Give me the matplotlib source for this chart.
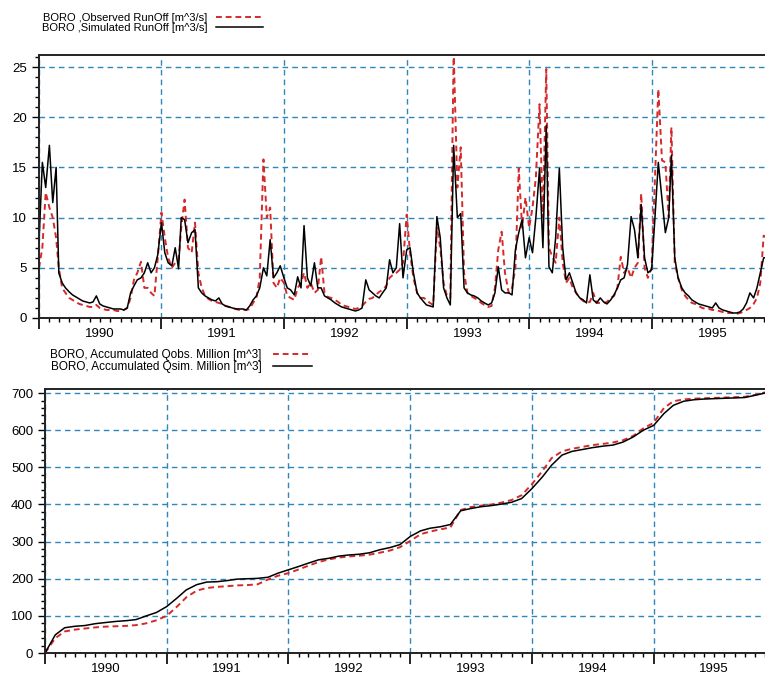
import numpy as np
import pandas as pd
import matplotlib.pyplot as plt
import matplotlib.dates as mdates
from matplotlib.ticker import MultipleLocator, NullFormatter, FuncFormatter

plt.rcParams['font.family'] = ['Liberation Sans', 'DejaVu Sans']

# runoff, 3 values per month (day 1, 11, 21)
years = [1990, 1991, 1992, 1993, 1994, 1995]
dekad_days = [1, 11, 21]

sim_1990 = [7.5, 15.5, 13.0, 17.2, 11.5, 15.0, 4.5, 3.5, 3.0, 2.6, 2.3, 2.1,
            1.9, 1.7, 1.6, 1.5, 1.6, 2.2, 1.4, 1.2, 1.1, 1.0, 0.9, 0.9,
            0.9, 0.8, 1.0, 2.5, 3.2, 3.8, 4.0, 4.5, 5.5, 4.5, 5.0, 6.3]
obs_1990 = [5.0, 7.0, 12.5, 11.0, 10.0, 8.0, 5.0, 3.0, 2.5, 2.0, 1.8, 1.6,
            1.4, 1.3, 1.2, 1.1, 1.1, 1.3, 1.0, 0.9, 0.8, 0.8, 0.8, 0.7,
            0.7, 0.8, 1.0, 2.0, 3.8, 4.5, 5.6, 3.0, 3.0, 2.5, 2.2, 6.0]

sim_1991 = [9.5, 6.5, 5.5, 5.2, 7.0, 4.9, 10.0, 9.8, 7.5, 8.5, 8.8, 3.0,
            2.5, 2.2, 2.0, 1.8, 1.7, 2.0, 1.4, 1.2, 1.1, 1.0, 0.9, 0.9,
            0.9, 0.8, 1.2, 1.8, 2.2, 3.0, 5.0, 4.2, 7.8, 4.0, 4.5, 5.2]
obs_1991 = [10.5, 8.0, 6.0, 5.0, 5.5, 5.8, 9.0, 11.8, 7.0, 6.5, 9.5, 4.5,
            3.0, 2.2, 1.9, 1.7, 1.6, 1.5, 1.4, 1.2, 1.1, 1.0, 0.9, 0.8,
            0.8, 0.8, 0.9, 1.5, 2.0, 4.0, 15.8, 10.0, 11.0, 3.5, 3.0, 4.0]

sim_1992 = [4.0, 3.0, 2.8, 2.3, 4.1, 3.0, 9.2, 4.0, 3.2, 5.5, 3.0, 3.0,
            2.2, 2.0, 1.8, 1.5, 1.3, 1.1, 1.0, 0.9, 0.8, 0.7, 0.8, 1.0,
            3.8, 2.8, 2.5, 2.2, 2.0, 2.5, 3.0, 5.8, 4.5, 5.0, 9.4, 4.0]
obs_1992 = [3.5, 2.2, 2.0, 1.8, 3.0, 3.5, 4.5, 3.0, 3.5, 2.5, 2.8, 6.1,
            2.5, 2.1, 2.0, 1.8, 1.6, 1.3, 1.2, 1.1, 1.0, 0.9, 1.0, 1.2,
            1.6, 1.9, 2.0, 2.3, 2.6, 2.8, 3.2, 4.0, 4.3, 4.5, 4.8, 5.5]

sim_1993 = [6.8, 7.0, 4.5, 2.5, 2.0, 1.6, 1.3, 1.2, 1.1, 10.1, 8.0, 3.0,
            2.0, 1.3, 17.2, 10.0, 10.4, 3.0, 2.5, 2.3, 2.2, 2.0, 1.7, 1.5,
            1.3, 1.5, 2.5, 5.1, 2.8, 2.5, 2.5, 2.3, 6.8, 8.5, 9.8, 6.0]
obs_1993 = [10.3, 6.5, 4.0, 2.5, 2.0, 2.0, 1.8, 1.5, 1.3, 9.0, 7.0, 3.5,
            2.2, 2.0, 26.5, 13.0, 17.0, 4.5, 2.5, 2.2, 2.0, 1.8, 1.5, 1.3,
            1.1, 1.2, 3.0, 6.8, 8.6, 4.5, 2.5, 3.0, 5.0, 14.9, 9.0, 12.0]

sim_1994 = [8.0, 6.5, 10.0, 14.9, 7.0, 19.2, 5.1, 4.5, 8.0, 14.9, 7.0, 3.8,
            4.5, 3.5, 2.5, 2.0, 1.8, 1.5, 4.3, 1.8, 1.5, 2.0, 1.6, 1.4,
            1.8, 2.3, 3.0, 3.8, 4.0, 5.3, 10.1, 8.8, 6.0, 11.3, 6.0, 4.5]
obs_1994 = [9.0, 11.0, 14.0, 21.3, 10.0, 24.8, 7.0, 6.1, 5.5, 10.0, 5.5, 3.5,
            4.0, 3.0, 2.5, 2.0, 1.7, 1.5, 1.6, 2.5, 1.5, 1.5, 1.5, 1.6,
            2.0, 2.2, 3.0, 6.1, 4.5, 5.0, 4.0, 5.0, 5.5, 12.4, 5.0, 4.0]

sim_1995 = [4.8, 10.0, 15.5, 11.8, 8.5, 10.0, 16.2, 6.0, 4.0, 3.0, 2.5, 2.2,
            1.8, 1.6, 1.4, 1.3, 1.2, 1.1, 1.0, 1.5, 1.0, 0.8, 0.7, 0.6,
            0.5, 0.5, 0.6, 0.9, 1.5, 2.5, 2.0, 3.0, 4.5, 6.0, 6.0, 6.0]
obs_1995 = [5.0, 14.0, 22.8, 15.7, 15.5, 10.0, 19.0, 5.5, 4.0, 2.8, 2.2, 1.8,
            1.5, 1.4, 1.2, 1.0, 0.9, 0.9, 0.8, 0.8, 0.7, 0.6, 0.5, 0.5,
            0.5, 0.4, 0.5, 0.6, 0.8, 1.0, 1.4, 2.0, 3.5, 8.2, 8.0, 7.0]

# accumulated volumes, Million m^3, read at the first day of each month
acc_sim_1990 = [0, 49, 68, 72, 74, 79, 82, 85, 87, 90, 100, 109]
acc_sim_1991 = [125, 148, 170, 184, 191, 192, 195, 199, 200, 201, 204, 215]
acc_sim_1992 = [224, 233, 242, 251, 255, 261, 264, 266, 270, 278, 284, 292]
acc_sim_1993 = [314, 329, 336, 340, 346, 383, 389, 394, 397, 401, 406, 416]
acc_sim_1994 = [443, 474, 506, 533, 543, 548, 553, 557, 560, 568, 582, 600]
acc_sim_1995 = [613, 645, 667, 678, 682, 684, 685, 686, 687, 688, 694, 700]

acc_obs_1990 = [0, 40, 58, 63, 66, 69, 71, 72, 73, 75, 80, 88]
acc_obs_1991 = [100, 125, 150, 168, 175, 178, 180, 182, 183, 185, 198, 208]
acc_obs_1992 = [215, 225, 235, 245, 252, 257, 260, 262, 265, 270, 276, 285]
acc_obs_1993 = [302, 320, 327, 333, 338, 385, 393, 397, 400, 405, 412, 425]
acc_obs_1994 = [455, 490, 525, 543, 550, 555, 560, 563, 567, 573, 585, 605]
acc_obs_1995 = [620, 660, 678, 683, 685, 686, 687, 688, 689, 690, 695, 702]

lbl_obs = 'BORO ,Observed RunOff [m^3/s]'
lbl_sim = 'BORO ,Simulated RunOff [m^3/s]'
lbl_acc_obs = 'BORO, Accumulated Qobs. Million [m^3]'
lbl_acc_sim = 'BORO, Accumulated Qsim. Million [m^3]'

# ---- build series
q_dates = [pd.Timestamp(y, m, d) for y in years for m in range(1, 13) for d in dekad_days]
q_sim = sim_1990 + sim_1991 + sim_1992 + sim_1993 + sim_1994 + sim_1995
q_obs = obs_1990 + obs_1991 + obs_1992 + obs_1993 + obs_1994 + obs_1995

a_dates = [pd.Timestamp(y, m, 1) for y in years for m in range(1, 13)]
a_sim = acc_sim_1990 + acc_sim_1991 + acc_sim_1992 + acc_sim_1993 + acc_sim_1994 + acc_sim_1995
a_obs = acc_obs_1990 + acc_obs_1991 + acc_obs_1992 + acc_obs_1993 + acc_obs_1994 + acc_obs_1995

red = '#d42a2a'
gridc = '#2f86b8'

fig = plt.figure(figsize=(7.65, 6.8), dpi=100)
W, H = 765, 680
ax1 = fig.add_axes([39 / W, 1 - 318 / H, (765 - 39) / W, (318 - 55) / H])
ax2 = fig.add_axes([45 / W, 1 - 653 / H, (765 - 45) / W, (653 - 389) / H])


def year_label(x, pos):
    d = mdates.num2date(x)
    if d.month == 7:
        return str(d.year)
    return ''


def style(ax):
    ax.xaxis.set_major_locator(mdates.YearLocator())
    ax.xaxis.set_minor_locator(mdates.MonthLocator())
    ax.xaxis.set_major_formatter(NullFormatter())
    ax.xaxis.set_minor_formatter(FuncFormatter(year_label))
    ax.tick_params(axis='x', which='major', direction='out', length=8, width=1.2, labelsize=9.5)
    ax.tick_params(axis='x', which='minor', direction='out', length=3, width=1, labelsize=9.5, pad=4)
    ax.tick_params(axis='y', which='major', direction='out', length=5, width=1, labelsize=9.5)
    ax.tick_params(axis='y', which='minor', direction='out', length=3, width=1)
    ax.grid(which='major', color=gridc, linestyle=(0, (4, 3)), linewidth=1)
    ax.spines['right'].set_visible(False)
    for s in ['top', 'left', 'bottom']:
        ax.spines[s].set_linewidth(1.4)
        ax.spines[s].set_color('#222222')


ax1.plot(q_dates, q_obs, color=red, linestyle=(0, (3, 2)), linewidth=1.4, label=lbl_obs)
ax1.plot(q_dates, q_sim, color='black', linewidth=1.1, label=lbl_sim)
ax1.set_xlim(pd.Timestamp('1990-01-01'), pd.Timestamp('1995-12-05'))
ax1.set_ylim(0, 26.2)
ax1.yaxis.set_major_locator(MultipleLocator(5))
ax1.yaxis.set_minor_locator(MultipleLocator(1))
style(ax1)

ax2.plot(a_dates, a_obs, color=red, linestyle=(0, (3, 2)), linewidth=1.4, label=lbl_acc_obs)
ax2.plot(a_dates, a_sim, color='black', linewidth=1.1, label=lbl_acc_sim)
ax2.set_xlim(pd.Timestamp('1990-01-01'), pd.Timestamp('1995-12-01'))
ax2.set_ylim(0, 711)
ax2.yaxis.set_major_locator(MultipleLocator(100))
ax2.yaxis.set_minor_locator(MultipleLocator(20))
style(ax2)

fig.legend(handles=ax1.get_lines(), loc='upper left', bbox_to_anchor=(36 / W, 1 - 7 / H),
           frameon=False, markerfirst=False, fontsize=8, handlelength=4.2,
           labelspacing=0.0, borderpad=0, handletextpad=0.8)
fig.legend(handles=ax2.get_lines(), loc='upper left', bbox_to_anchor=(44 / W, 1 - 343 / H),
           frameon=False, markerfirst=False, fontsize=8.5, handlelength=3.3,
           labelspacing=0.05, borderpad=0, handletextpad=1.0)

fig.savefig('out.png', dpi=100)
